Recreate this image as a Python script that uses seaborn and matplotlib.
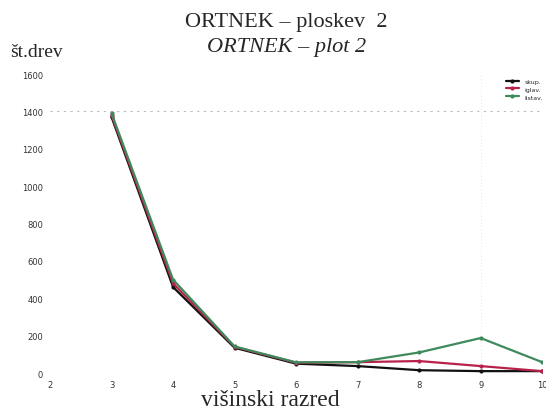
import numpy as np
import pandas as pd
import matplotlib
matplotlib.use("Agg")
import matplotlib.pyplot as plt
import seaborn as sns

# data
razred = [3, 4, 5, 6, 7, 8, 9, 10]
skupaj = [1370, 460, 135, 50, 37, 15, 10, 10]
serija2 = [1380, 480, 140, 55, 58, 64, 37, 10]
serija3 = [1390, 500, 142, 57, 58, 110, 187, 58]
series_names = ["skup.", "iglav.", "listav."]
colors = ["#111111", "#b8224a", "#3f8a5c"]
yticks = [0, 200, 400, 600, 800, 1000, 1200, 1400, 1600]
xticks = [2, 3, 4, 5, 6, 7, 8, 9, 10]

df = pd.DataFrame({
    "x": razred * 3,
    "y": skupaj + serija2 + serija3,
    "s": [series_names[0]] * len(razred) + [series_names[1]] * len(razred) + [series_names[2]] * len(razred),
})

sns.set_theme(style="white")
fig = plt.figure(figsize=(5.46, 4.10), dpi=100)
ax = fig.add_axes([0.0916, 0.0878, 0.9014, 0.7292])

# faint scan-like reference lines
ax.axhline(1400, color="#bbbbbb", lw=0.8, ls=(0, (2, 4)), zorder=0)
ax.axvline(9, color="#dddddd", lw=0.6, ls=(0, (1, 3)), zorder=0)

sns.lineplot(data=df, x="x", y="y", hue="s", palette=colors, ax=ax,
             linewidth=1.6, marker="o", markersize=3, markeredgewidth=0,
             legend=True, sort=False)

ax.set_xlim(2, 10)
ax.set_ylim(0, 1600)
ax.set_xticks(xticks)
ax.set_yticks(yticks)
ax.tick_params(axis="both", labelsize=6, colors="#333333", length=0, pad=5)
for sp in ax.spines.values():
    sp.set_visible(False)
ax.set_xlabel("")
ax.set_ylabel("")

leg = ax.legend(loc="upper right", bbox_to_anchor=(1.01, 1.0), fontsize=4.5,
                frameon=False, handlelength=2.2, labelspacing=0.4, borderpad=0.2)

serif = ["Liberation Serif", "DejaVu Serif"]
fig.text(0.525, 0.945, "ORTNEK – ploskev  2", ha="center", va="center",
         fontsize=16, family=serif)
fig.text(0.525, 0.885, "ORTNEK – plot 2", ha="center", va="center",
         fontsize=16, family=serif, style="italic")
fig.text(0.018, 0.872, "št.drev", ha="left", va="center", fontsize=14, family=serif)
fig.text(0.495, 0.022, "višinski razred", ha="center", va="center",
         fontsize=17, family=serif)

fig.savefig("out.png", dpi=100)
